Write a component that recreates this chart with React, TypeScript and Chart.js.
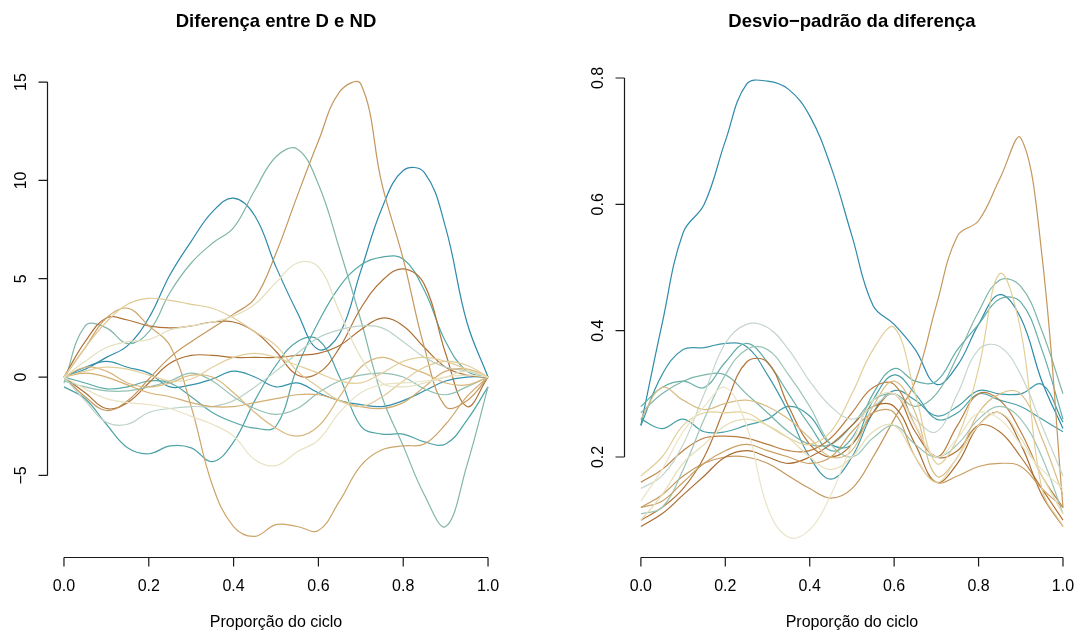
import React, { useEffect, useRef } from "react";
import { Chart, registerables } from "chart.js";
Chart.register(...registerables);

// ---------- data ----------
const prop = [0, 0.05, 0.1, 0.15, 0.2, 0.25, 0.3, 0.35, 0.4, 0.45, 0.5, 0.55, 0.6, 0.65, 0.7, 0.75, 0.8, 0.85, 0.9, 0.95, 1];
const xTicks = [0, 0.2, 0.4, 0.6, 0.8, 1.0];
const xTickLabels = ["0.0", "0.2", "0.4", "0.6", "0.8", "1.0"];
const diffTicks = [-5, 0, 5, 10, 15];
const diffTickLabels = ["\u22125", "0", "5", "10", "15"];
const sdTicks = [0.2, 0.4, 0.6, 0.8];
const sdTickLabels = ["0.2", "0.4", "0.6", "0.8"];

const titleDiff = "Diferença entre D e ND";
const titleSd = "Desvio\u2212padrão da diferença";
const xLabel = "Proporção do ciclo";

// Left panel: difference curves
const diffA = [0, 0.4, 1.0, 1.6, 3.0, 5.2, 6.9, 8.4, 9.1, 8.2, 5.6, 3.3, 1.4, 2.2, 5.4, 8.6, 10.5, 10.4, 7.6, 2.8, 0];
const diffC = [-0.3, 2.6, 2.5, 1.7, 2.3, 4.3, 5.8, 6.8, 7.6, 9.5, 11.2, 11.6, 9.8, 6.5, 2.9, -1.0, -3.5, -6.0, -7.6, -4.5, -0.5];
const diffD = [0, -1.0, -1.7, -1.2, -0.1, 1.0, 1.8, 2.5, 3.2, 4.0, 6.3, 9.2, 12.0, 14.5, 14.9, 9.8, 6.0, 1.5, -1.5, -1.2, 0];
const diffE = [0, 1.8, 3.0, 2.9, 2.6, 2.5, 2.6, 2.8, 2.8, 2.3, 1.3, 0.1, 0.2, 1.5, 3.5, 4.9, 5.5, 4.7, 1.2, -1.5, 0];
const diffF = [0, 0.8, 1.5, 1.8, 1.9, 2.4, 2.6, 2.8, 3.1, 3.7, 4.8, 5.8, 5.6, 3.3, 1.0, -0.3, -0.5, -0.3, 0, 0.3, 0];
const diffG = [0, 1.5, 2.8, 3.7, 4.0, 3.9, 3.7, 3.5, 3.0, 2.3, 1.6, 0.3, -0.5, -1.2, -1.5, -1.0, -0.2, 0.5, 0.8, 0.6, 0];
const diffH = [0, 1.5, 3.0, 3.5, 2.6, 1.6, -1.5, -5.5, -7.6, -8.1, -7.5, -7.6, -7.8, -6.3, -4.5, -3.7, -3.5, -3.4, -2.4, -1.0, 0];
const diffI = [-0.5, -1.1, -2.4, -3.6, -3.9, -3.5, -3.6, -4.3, -3.3, -1.2, 0.6, 1.8, 1.9, 0.0, -2.5, -2.9, -2.9, -3.3, -3.4, -2.2, -0.5];
const diffJ = [0, -0.3, -0.6, -0.5, -0.2, -0.3, -1.0, -1.8, -2.3, -2.6, -2.5, 0.5, 2.8, 4.6, 5.7, 6.1, 6.0, 4.4, 1.8, 0.3, 0];
const diffK = [0, 0.5, 0.8, 0.5, 0.2, -0.5, -0.4, -0.1, 0.3, 0.0, -0.5, -0.3, -0.8, -1.2, -1.4, -1.5, -1.2, -0.7, -0.2, 0, 0];
const diffL = [0, -1.2, -2.3, -2.4, -1.8, -1.6, -1.5, -1.5, -1.2, -0.5, 0.3, 1.2, 2.0, 2.4, 2.6, 2.5, 1.8, 1.0, 0.5, 0.3, 0];
const diffM = [0, -0.8, -1.6, -1.3, -0.3, 0.7, 1.1, 1.1, 1.0, 1.0, 1.0, 1.1, 1.2, 1.6, 2.4, 3.0, 2.6, 1.5, 0.5, 0.1, 0];
const diffN = [0, 0.2, 0, -0.4, -0.8, -1.0, -1.3, -1.5, -1.5, -1.3, -1.1, -0.9, -0.9, -1.2, -1.5, -1.6, -1.3, -0.5, 0.3, 0.4, 0];
const diffO = [0, -0.6, -1.1, -1.3, -1.4, -1.6, -2.0, -2.4, -3.0, -4.2, -4.5, -3.8, -3.2, -1.8, -0.8, -0.4, -0.3, -0.2, 0, 0.1, 0];
const diffP = [0, 0.5, 0.3, -0.3, -0.5, -0.3, 0.1, 0.0, -0.8, -1.8, -2.6, -3.0, -2.5, -1.0, 0.5, 1.0, 0.6, 0.2, -0.3, -0.4, 0];
const diffQ = [-0.2, -0.5, -0.7, -0.7, -0.5, -0.2, 0.2, -0.2, -1.0, -1.6, -1.9, -1.6, -0.8, -0.2, 0.1, 0.2, 0.0, -0.6, -0.9, -0.5, 0];
const diffR = [0, 0.3, 0.5, 0.4, 0.1, -0.2, -0.1, 0.5, 1.0, 1.2, 1.0, 0.6, 0.2, -0.2, -0.3, 0.2, 0.8, 1.0, 0.8, 0.4, 0];

const diffSeries = [diffO, diffF, diffR, diffG, diffP, diffN, diffL, diffQ, diffH, diffD, diffM, diffE, diffC, diffJ, diffI, diffK, diffA];
const diffColors = ["#E9E3C3", "#E4E0BE", "#E3CF9C", "#E0CB96", "#D8B87E", "#D3AE72", "#BCD2C6", "#92C0B2", "#CCA468", "#C4975C", "#AD6F33", "#B0733A", "#80B7A8", "#55A8A4", "#4FA3A5", "#3391AB", "#2E8AAA"];

// Right panel: standard deviation curves
const sd1 = [0.25, 0.41, 0.555, 0.6, 0.7, 0.79, 0.795, 0.782, 0.74, 0.66, 0.55, 0.44, 0.41, 0.37, 0.315, 0.345, 0.41, 0.457, 0.42, 0.32, 0.245];
const sd2 = [0.12, 0.14, 0.17, 0.19, 0.2, 0.2, 0.19, 0.17, 0.15, 0.135, 0.15, 0.2, 0.26, 0.32, 0.44, 0.55, 0.574, 0.64, 0.705, 0.52, 0.12];
const sd3 = [0.25, 0.33, 0.37, 0.373, 0.38, 0.375, 0.33, 0.27, 0.2, 0.165, 0.2, 0.27, 0.305, 0.29, 0.265, 0.28, 0.305, 0.3, 0.3, 0.315, 0.255];
const sd4 = [0.28, 0.31, 0.32, 0.31, 0.35, 0.38, 0.35, 0.3, 0.25, 0.21, 0.23, 0.3, 0.34, 0.32, 0.32, 0.37, 0.41, 0.45, 0.445, 0.37, 0.26];
const sd5 = [0.26, 0.245, 0.26, 0.24, 0.24, 0.25, 0.26, 0.28, 0.265, 0.22, 0.22, 0.29, 0.33, 0.3, 0.26, 0.27, 0.3, 0.29, 0.28, 0.26, 0.24];
const sd6 = [0.15, 0.17, 0.22, 0.3, 0.38, 0.41, 0.405, 0.37, 0.32, 0.28, 0.26, 0.28, 0.3, 0.26, 0.24, 0.3, 0.37, 0.375, 0.33, 0.25, 0.17];
const sd7 = [0.1, 0.12, 0.15, 0.2, 0.28, 0.35, 0.35, 0.28, 0.22, 0.2, 0.22, 0.27, 0.3, 0.24, 0.2, 0.21, 0.25, 0.24, 0.2, 0.15, 0.1];
const sd8 = [0.17, 0.2, 0.25, 0.27, 0.27, 0.27, 0.25, 0.23, 0.22, 0.24, 0.3, 0.37, 0.405, 0.3, 0.19, 0.23, 0.34, 0.49, 0.4, 0.15, 0.09];
const sd9 = [0.13, 0.18, 0.24, 0.28, 0.31, 0.25, 0.12, 0.073, 0.085, 0.14, 0.22, 0.29, 0.3, 0.25, 0.2, 0.23, 0.27, 0.26, 0.22, 0.18, 0.15];
const sd10 = [0.26, 0.31, 0.29, 0.275, 0.285, 0.29, 0.28, 0.26, 0.23, 0.2, 0.21, 0.28, 0.32, 0.27, 0.17, 0.2, 0.27, 0.3, 0.3, 0.23, 0.14];
const sd11 = [0.09, 0.11, 0.14, 0.17, 0.2, 0.21, 0.2, 0.19, 0.2, 0.22, 0.25, 0.28, 0.28, 0.22, 0.16, 0.19, 0.25, 0.27, 0.22, 0.14, 0.09];
const sd12 = [0.16, 0.18, 0.21, 0.23, 0.233, 0.23, 0.22, 0.21, 0.21, 0.23, 0.27, 0.31, 0.315, 0.25, 0.2, 0.25, 0.3, 0.29, 0.24, 0.17, 0.12];
const sd13 = [0.12, 0.13, 0.16, 0.19, 0.21, 0.22, 0.21, 0.2, 0.19, 0.2, 0.24, 0.27, 0.27, 0.2, 0.16, 0.17, 0.185, 0.19, 0.185, 0.15, 0.12];
const sd14 = [0.11, 0.12, 0.18, 0.26, 0.33, 0.37, 0.37, 0.33, 0.28, 0.22, 0.2, 0.23, 0.25, 0.22, 0.2, 0.22, 0.26, 0.28, 0.26, 0.2, 0.11];
const sd15 = [0.27, 0.3, 0.32, 0.33, 0.33, 0.3, 0.27, 0.24, 0.22, 0.22, 0.25, 0.29, 0.3, 0.28, 0.3, 0.36, 0.43, 0.48, 0.47, 0.4, 0.3];
const sd16 = [0.1, 0.14, 0.19, 0.22, 0.25, 0.26, 0.25, 0.23, 0.2, 0.18, 0.2, 0.24, 0.25, 0.2, 0.16, 0.2, 0.25, 0.27, 0.23, 0.17, 0.11];

const sdSeries = [sd9, sd16, sd8, sd10, sd13, sd6, sd14, sd11, sd7, sd12, sd2, sd15, sd4, sd5, sd3, sd1];
const sdColors = ["#EAE4C6", "#E6DDB4", "#E2CF98", "#D9BC84", "#C9A064", "#C6D6CB", "#9CC5B7", "#A96C30", "#B27538", "#B97D40", "#C4975C", "#7DB6A9", "#64AEA6", "#47A0A8", "#3F98A8", "#2E8AAA"];

// ---------- drawing ----------
const FONT = '"Liberation Sans", Arial, Helvetica, sans-serif';

function rAxesPlugin(title: string, yTicks: number[], yLabels: string[]) {
  return {
    id: "rAxes",
    afterDraw(chart: any) {
      const { ctx, chartArea } = chart;
      const xs = chart.scales.x;
      const ys = chart.scales.y;
      ctx.save();
      ctx.strokeStyle = "#1a1a1a";
      ctx.fillStyle = "#000";
      ctx.lineWidth = 1.2;
      // x axis
      const yb = Math.round(chartArea.bottom) + 0.5;
      const xa = xs.getPixelForValue(xTicks[0]);
      const xe = xs.getPixelForValue(xTicks[xTicks.length - 1]);
      ctx.beginPath();
      ctx.moveTo(xa, yb);
      ctx.lineTo(xe, yb);
      xTicks.forEach((t) => {
        const px = xs.getPixelForValue(t);
        ctx.moveTo(px, yb);
        ctx.lineTo(px, yb + 9);
      });
      // y axis
      const xl = Math.round(chartArea.left) + 0.5;
      const ya = ys.getPixelForValue(yTicks[0]);
      const ye = ys.getPixelForValue(yTicks[yTicks.length - 1]);
      ctx.moveTo(xl, ya);
      ctx.lineTo(xl, ye);
      yTicks.forEach((t) => {
        const py = ys.getPixelForValue(t);
        ctx.moveTo(xl, py);
        ctx.lineTo(xl - 9, py);
      });
      ctx.stroke();

      ctx.font = "16px " + FONT;
      ctx.textAlign = "center";
      ctx.textBaseline = "middle";
      xTicks.forEach((t, i) => {
        ctx.fillText(xTickLabels[i], xs.getPixelForValue(t), yb + 29);
      });
      yTicks.forEach((t, i) => {
        ctx.save();
        ctx.translate(xl - 26, ys.getPixelForValue(t));
        ctx.rotate(-Math.PI / 2);
        ctx.fillText(yLabels[i], 0, 0);
        ctx.restore();
      });
      const cx = (xa + xe) / 2;
      ctx.fillText(xLabel, cx, 623);
      ctx.font = "bold 18.5px " + FONT;
      ctx.fillText(title, cx, 22);
      ctx.restore();
    },
  };
}

function buildConfig(
  series: number[][],
  colors: string[],
  title: string,
  yTicks: number[],
  yLabels: string[],
  yMin: number,
  yMax: number,
  xMin: number,
  xMax: number,
  padding: any
) {
  return {
    type: "line" as const,
    data: {
      datasets: series.map((s, i) => ({
        data: prop.map((x, j) => ({ x, y: s[j] })),
        borderColor: colors[i],
        borderWidth: 1.2,
        pointRadius: 0,
        tension: 0.4,
        fill: false,
      })),
    },
    options: {
      responsive: false,
      animation: false as const,
      events: [],
      layout: { padding },
      plugins: { legend: { display: false }, tooltip: { enabled: false }, title: { display: false } },
      scales: {
        x: { type: "linear" as const, min: xMin, max: xMax, display: false },
        y: { type: "linear" as const, min: yMin, max: yMax, display: false },
      },
    },
    plugins: [rAxesPlugin(title, yTicks, yLabels)],
  };
}

export default function App() {
  const leftRef = useRef<HTMLCanvasElement>(null);
  const rightRef = useRef<HTMLCanvasElement>(null);

  useEffect(() => {
    const left = new Chart(
      leftRef.current as HTMLCanvasElement,
      buildConfig(diffSeries, diffColors, titleDiff, diffTicks, diffTickLabels, -9.15, 16.02, -0.04, 1.04, {
        left: 47,
        right: 572,
        top: 62,
        bottom: 75,
      }) as any
    );
    const right = new Chart(
      rightRef.current as HTMLCanvasElement,
      buildConfig(sdSeries, sdColors, titleSd, sdTicks, sdTickLabels, 0.0417, 0.8253, -0.04, 1.0332, {
        left: 624,
        right: 0,
        top: 62,
        bottom: 75,
      }) as any
    );
    return () => {
      left.destroy();
      right.destroy();
    };
  }, []);

  const cStyle: React.CSSProperties = { position: "absolute", left: 0, top: 0, width: 1077, height: 632 };
  return (
    <div style={{ position: "absolute", left: 0, top: 0, width: 1077, height: 632, background: "#fff" }}>
      <canvas ref={leftRef} width={1077} height={632} style={cStyle} />
      <canvas ref={rightRef} width={1077} height={632} style={cStyle} />
    </div>
  );
}
